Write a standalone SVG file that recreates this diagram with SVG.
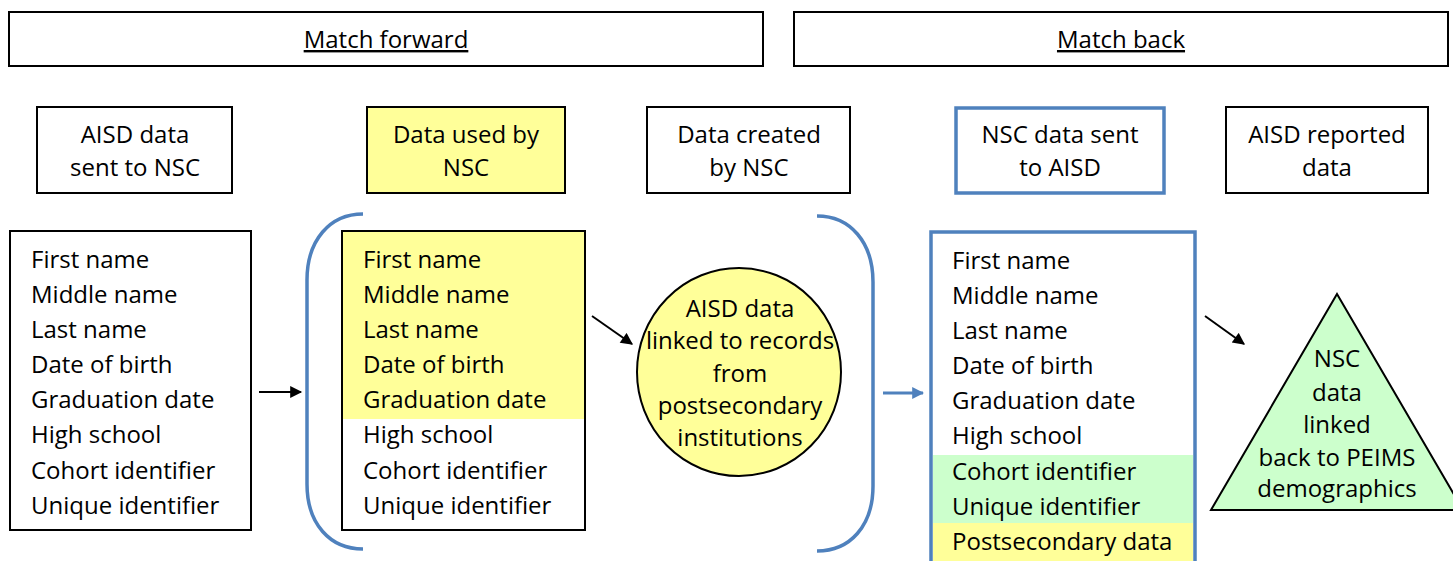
<svg xmlns="http://www.w3.org/2000/svg" width="1453" height="561" viewBox="0 0 1453 561">
<defs>
<style>
text{font-family:"Open Sans","Noto Sans",sans-serif;font-size:24px;fill:#000}
.c{text-anchor:middle}
.u{text-decoration:underline}
.bx{fill:#fff;stroke:#000;stroke-width:2}
.yb{fill:#FFFF99;stroke:#000;stroke-width:2}
.bb{fill:#fff;stroke:#4F81BD;stroke-width:3.5}
.br{fill:none;stroke:#4F81BD;stroke-width:3.5}
.ar{fill:none;stroke:#000;stroke-width:2}
.arb{fill:none;stroke:#4F81BD;stroke-width:3}
</style>
<marker id="mk" viewBox="0 0 10 10" refX="9" refY="5" markerWidth="14" markerHeight="12" markerUnits="userSpaceOnUse" orient="auto"><path d="M0,0 L10,5 L0,10 z" fill="#000"/></marker>
<marker id="mkb" viewBox="0 0 10 10" refX="9" refY="5" markerWidth="12" markerHeight="12" markerUnits="userSpaceOnUse" orient="auto"><path d="M0,0 L10,5 L0,10 z" fill="#4F81BD"/></marker>
</defs>

<g id="match-forward">
<rect class="bx" x="9" y="12" width="754" height="54"/>
<text class="c u" x="386" y="48">Match forward</text>
</g>
<g id="match-back">
<rect class="bx" x="794" y="12" width="654" height="54"/>
<text class="c u" x="1121" y="48">Match back</text>
</g>

<g id="h-aisd-sent">
<rect class="bx" x="37" y="107" width="195" height="86"/>
<text class="c" x="135" y="143">AISD data</text>
<text class="c" x="135" y="176">sent to NSC</text>
</g>
<g id="h-data-used">
<rect class="yb" x="367" y="107" width="198" height="86"/>
<text class="c" x="466" y="143">Data used by</text>
<text class="c" x="466" y="176">NSC</text>
</g>
<g id="h-data-created">
<rect class="bx" x="647" y="107" width="203" height="86"/>
<text class="c" x="749" y="143">Data created</text>
<text class="c" x="749" y="176">by NSC</text>
</g>
<g id="h-nsc-sent">
<rect class="bb" x="956" y="108" width="208" height="85"/>
<text class="c" x="1060" y="143">NSC data sent</text>
<text class="c" x="1060" y="176">to AISD</text>
</g>
<g id="h-aisd-reported">
<rect class="bx" x="1226" y="107" width="202" height="86"/>
<text class="c" x="1327" y="143">AISD reported</text>
<text class="c" x="1327" y="176">data</text>
</g>

<g id="list-aisd">
<rect class="bx" x="10" y="231" width="241" height="299"/>
<text x="31" y="268">First name</text>
<text x="31" y="303">Middle name</text>
<text x="31" y="338">Last name</text>
<text x="31" y="373">Date of birth</text>
<text x="31" y="408">Graduation date</text>
<text x="31" y="443">High school</text>
<text x="31" y="479">Cohort identifier</text>
<text x="31" y="514">Unique identifier</text>
</g>

<g id="list-used">
<rect class="bx" x="342" y="231" width="243" height="299"/>
<rect x="343" y="232" width="241" height="187" fill="#FFFF99"/>
<text x="363" y="268">First name</text>
<text x="363" y="303">Middle name</text>
<text x="363" y="338">Last name</text>
<text x="363" y="373">Date of birth</text>
<text x="363" y="408">Graduation date</text>
<text x="363" y="443">High school</text>
<text x="363" y="479">Cohort identifier</text>
<text x="363" y="514">Unique identifier</text>
</g>

<g id="circle-linked">
<ellipse cx="739" cy="372" rx="102" ry="104" fill="#FFFF99" stroke="#000" stroke-width="2"/>
<text class="c" x="740" y="317">AISD data</text>
<text class="c" x="740" y="349">linked to records</text>
<text class="c" x="740" y="382">from</text>
<text class="c" x="740" y="414">postsecondary</text>
<text class="c" x="740" y="446">institutions</text>
</g>

<g id="brackets">
<path class="br" d="M363,214 C330,214 307,240 307,280 L307,484 C307,524 330,549 363,549"/>
<path class="br" d="M817,216 C850,216 873,242 873,282 L873,486 C873,526 850,551 817,551"/>
</g>

<g id="list-nsc">
<rect class="bb" x="931" y="232" width="264" height="340"/>
<rect x="933" y="455" width="260" height="68" fill="#CCFFCC"/>
<rect x="933" y="523" width="260" height="48" fill="#FFFF99"/>
<text x="952" y="269">First name</text>
<text x="952" y="304">Middle name</text>
<text x="952" y="339">Last name</text>
<text x="952" y="374">Date of birth</text>
<text x="952" y="409">Graduation date</text>
<text x="952" y="444">High school</text>
<text x="952" y="480">Cohort identifier</text>
<text x="952" y="515">Unique identifier</text>
<text x="952" y="550">Postsecondary data</text>
</g>

<g id="triangle-linked">
<path d="M1337,294 L1463,510 L1211,510 Z" fill="#CCFFCC" stroke="#000" stroke-width="2"/>
<text class="c" x="1337" y="367">NSC</text>
<text class="c" x="1337" y="401">data</text>
<text class="c" x="1337" y="433">linked</text>
<text class="c" x="1337" y="466">back to PEIMS</text>
<text class="c" x="1337" y="497">demographics</text>
</g>

<g id="connectors">
<line class="ar" x1="259" y1="392" x2="301" y2="392" marker-end="url(#mk)"/>
<line class="ar" x1="592" y1="316" x2="632" y2="344" marker-end="url(#mk)"/>
<line class="arb" x1="883" y1="393" x2="923" y2="393" marker-end="url(#mkb)"/>
<line class="ar" x1="1205" y1="316" x2="1244" y2="344" marker-end="url(#mk)"/>
</g>
</svg>
